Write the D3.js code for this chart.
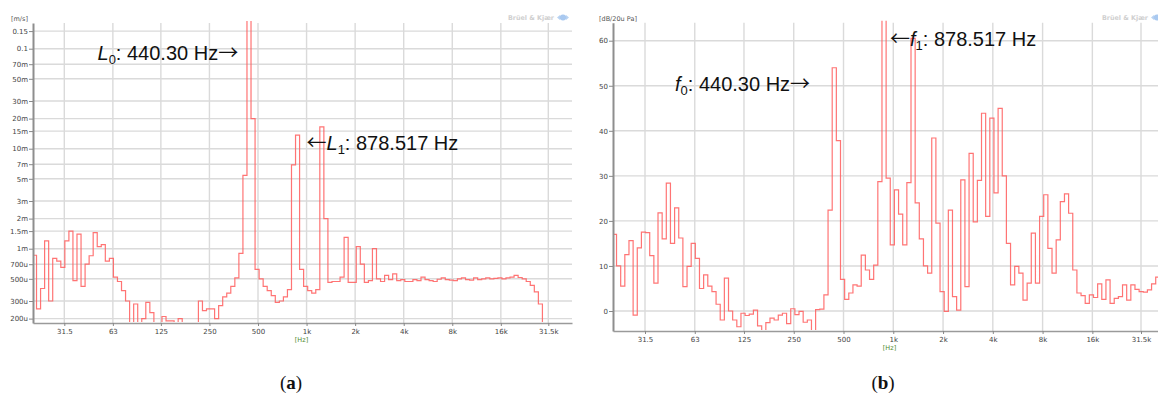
<!DOCTYPE html>
<html><head><meta charset="utf-8">
<script src="https://cdn.jsdelivr.net/npm/d3@7"></script>
<style>body{margin:0;background:#fff}svg{display:block}</style>
</head><body><svg id="c" width="1158" height="400"></svg>
<script>
// ---- data ----
const bandStartHz = 20;        // first analyser band edge
const bandsPerOctave = 12;     // 1/12-octave bands
const freqTicks = [31.5, 63, 125, 250, 500, 1000, 2000, 4000, 8000, 16000, 31500];
const freqTickLabels = ["31.5", "63", "125", "250", "500", "1k", "2k", "4k", "8k", "16k", "31.5k"];
const velocityTicks = [0.15, 0.1, 0.07, 0.05, 0.03, 0.02, 0.015, 0.01, 0.007, 0.005, 0.003, 0.002, 0.0015, 0.001, 0.0007, 0.0005, 0.0003, 0.0002];
const velocityTickLabels = ["0.15", "0.1", "70m", "50m", "30m", "20m", "15m", "10m", "7m", "5m", "3m", "2m", "1.5m", "1m", "700u", "500u", "300u", "200u"];
const levelTicks = [60, 50, 40, 30, 20, 10, 0];
// (a) vibration velocity per band, in micro m/s
const velocityMicro = [
  860, 250, 400, 1200, 300, 800, 750, 650, 1200, 1500,
  480, 1400, 420, 700, 850, 1450, 1050, 1100, 750, 800,
  520, 470, 380, 300, 150, 280, 150, 200, 290, 230,
  150, 150, 210, 190, 190, 160, 200, 150, 150, 150,
  150, 300, 240, 250, 250, 200, 270, 330, 360, 420,
  510, 900, 5400, 200000, 20000, 620, 500, 420, 380, 340,
  290, 300, 330, 390, 6900, 13700, 620, 420, 380, 360,
  390, 16500, 2000, 460, 470, 470, 520, 1300, 460, 460,
  1050, 700, 460, 480, 1000, 500, 470, 540, 490, 560,
  480, 490, 470, 470, 490, 480, 520, 490, 480, 470,
  495, 510, 490, 485, 480, 500, 510, 490, 485, 510,
  490, 500, 510, 500, 505, 510, 500, 510, 520, 540,
  515, 500, 470, 430, 370, 280, 170
];
// (b) sound pressure level per band, dB re 20 uPa
const levelDb = [
  17, 10, 5.5, 12.5, 15.6, -0.9, 14, 17.5, 17.4, 12.3,
  6.2, 21.8, 16, 28.4, 15, 22.9, 16.2, 5.4, 9.9, 15,
  11.7, 5, 8, 5.5, 4.3, 1.5, -2, 7.3, 0, -2,
  -3.5, -0.5, -1, -0.7, 0.2, -3.3, -4.6, -2.6, -1.6, -2,
  -0.9, -0.5, -2.8, 0.5, -0.8, -0.1, -2.5, -2, -4.6, 0.3,
  0.4, 3.6, 22.4, 54, 37.8, 7, 2.6, 4, 5.8, 5.5,
  12.4, 9.1, 7, 10.2, 28.7, 66, 29.5, 14.7, 26.9, 21.5,
  14.7, 28.5, 60.5, 24, 16, 10, 8.4, 38.4, 19.5, 4.3,
  -0.1, 22.4, 3.2, 0.2, 29.1, 5.4, 35, 19.8, 29, 43.9,
  21, 42.8, 26.2, 45, 30, 15, 5.8, 9.9, 8.4, 2.4,
  6.2, 17.3, 6.2, 21, 25.8, 13.9, 8.4, 15.8, 24.3, 26,
  21.7, 9.1, 4, 3.4, 1.7, 3.6, 3, 6, 2.6, 6.9,
  1.7, 2.8, 3.2, 5.8, 2.4, 5.8, 4.8, 4.3, 4.2, 4.7,
  6, 7.5
];

// ---- drawing ----
const svg = d3.select("#c");
const defs = svg.append("defs");
const tickFont = "DejaVu Sans, Verdana, sans-serif";

function drawPanel(cfg) {
  const { left, right, top, bottom, x, y, yTicks, yLabels, values, id } = cfg;
  const g = svg.append("g");
  // grid
  g.append("g").selectAll("line").data(freqTicks).join("line")
    .attr("x1", d => x(d)).attr("x2", d => x(d)).attr("y1", top).attr("y2", bottom)
    .attr("stroke", "#dadada").attr("stroke-width", 1.4);
  g.append("g").selectAll("line").data(yTicks).join("line")
    .attr("x1", left).attr("x2", right).attr("y1", d => y(d)).attr("y2", d => y(d))
    .attr("stroke", "#dadada").attr("stroke-width", 1.4);
  // trace
  defs.append("clipPath").attr("id", id).append("rect")
    .attr("x", left).attr("y", top - 2).attr("width", right - left).attr("height", bottom - top + 1);
  const pts = values.map((v, i) => [bandStartHz * Math.pow(2, i / bandsPerOctave), v]);
  pts.push([bandStartHz * Math.pow(2, values.length / bandsPerOctave), values[values.length - 1]]);
  const line = d3.line().x(d => x(d[0])).y(d => y(d[1])).curve(d3.curveStepAfter);
  g.append("path").attr("d", line(pts)).attr("clip-path", `url(#${id})`)
    .attr("fill", "none").attr("stroke", "#ff5c5c").attr("stroke-width", 1.2)
    .attr("stroke-opacity", 0.85);
  // axes
  const ya = g.append("g").attr("transform", `translate(${left},0)`)
    .call(d3.axisLeft(y).tickValues(yTicks).tickFormat((d, i) => yLabels[i]).tickSizeInner(4).tickSizeOuter(0).tickPadding(1));
  ya.select(".domain").attr("stroke", "#8e8e8e").attr("stroke-width", 2);
  ya.selectAll(".tick line").attr("stroke", "#888");
  ya.selectAll("text").attr("font-family", tickFont).attr("font-size", 7).attr("fill", "#444");
  const xa = g.append("g").attr("transform", `translate(0,${bottom})`)
    .call(d3.axisBottom(x).tickValues(freqTicks).tickFormat((d, i) => freqTickLabels[i]).tickSizeInner(3).tickSizeOuter(0).tickPadding(3));
  xa.select(".domain").attr("stroke", "#9a9a9a").attr("stroke-width", 1.5);
  xa.selectAll(".tick line").attr("stroke", "#888");
  xa.selectAll("text").attr("font-family", tickFont).attr("font-size", 7).attr("fill", "#444");
  // unit labels
  g.append("text").attr("x", cfg.unitX).attr("y", 20.5).text(cfg.unit)
    .attr("font-family", tickFont).attr("font-size", 6.5).attr("fill", "#555");
  g.append("text").attr("x", cfg.hzX).attr("y", cfg.hzY).attr("text-anchor", "middle").text("[Hz]")
    .attr("font-family", tickFont).attr("font-size", 6.5).attr("fill", "#4f8a2c");
  // brand watermark
  g.append("text").attr("x", cfg.brandX).attr("y", 20).text("Brüel & Kjær")
    .attr("font-family", tickFont).attr("font-size", 6.5).attr("font-weight", "bold").attr("fill", "#d0d0d0")
    .attr("textLength", 46).attr("lengthAdjust", "spacingAndGlyphs");
  const bx = cfg.brandX + 55;
  g.append("path").attr("d", `M${bx - 6},17.5 L${bx - 3},15 L${bx - 3},20 Z M${bx + 6},17.5 L${bx + 3},15 L${bx + 3},20 Z`).attr("fill", "#b9d3f2");
  g.append("ellipse").attr("cx", bx).attr("cy", 17.5).attr("rx", 3.2).attr("ry", 3).attr("fill", "#a9c9f0");
}

// (a)
{
  const x = d3.scaleLog().domain([31.5, 31500]).range([64.3, 548.3]);
  x.domain([x.invert(33), x.invert(572)]).range([33, 572]);
  const y = d3.scaleLog().domain([0.1, 0.001]).range([48.7, 248.7]);
  y.domain([y.invert(323), y.invert(23)]).range([323, 23]);
  drawPanel({ left: 33, right: 572, top: 23, bottom: 323, x, y,
    yTicks: velocityTicks, yLabels: velocityTickLabels, id: "clipA",
    values: velocityMicro.map(v => v * 1e-6),
    unit: "[m/s]", unitX: 11, hzX: 301.5, hzY: 342, brandX: 508 });
}
// (b)
{
  const x = d3.scaleLog().domain([31.5, 31500]).range([645, 1141]);
  x.domain([x.invert(613), x.invert(1158)]).range([613, 1158]);
  const y = d3.scaleLinear().domain([0, 60]).range([311, 40.7]);
  y.domain([y.invert(331), y.invert(22.7)]).range([331, 22.7]);
  drawPanel({ left: 613, right: 1158, top: 22.7, bottom: 331, x, y,
    yTicks: levelTicks, yLabels: levelTicks.map(String), id: "clipB",
    values: levelDb,
    unit: "[dB/20u Pa]", unitX: 599, hzX: 889.5, hzY: 350, brandX: 1102 });
}

// annotations
const arrowFont = "Noto Sans CJK JP, DejaVu Sans, sans-serif";
function annotate(px, py, pre, sym, sub, post, postArrow) {
  const t = svg.append("text").attr("x", px).attr("y", py)
    .attr("font-family", "Liberation Sans, Arial, sans-serif").attr("font-size", 20).attr("fill", "#111");
  if (pre) t.append("tspan").attr("font-family", arrowFont).text(pre);
  t.append("tspan").attr("font-style", "italic").text(sym);
  t.append("tspan").attr("font-size", 13).attr("dy", 4).text(sub);
  t.append("tspan").attr("dy", -4).text(post);
  if (postArrow) t.append("tspan").attr("font-family", arrowFont).text(postArrow);
}
annotate(97.5, 60, "", "L", "0", ": 440.30 Hz", "\u2192");
annotate(306.5, 150, "\u2190", "L", "1", ": 878.517 Hz", "");
annotate(675, 90.5, "", "f", "0", ": 440.30 Hz", "\u2192");
annotate(890, 45.5, "\u2190", "f", "1", ": 878.517 Hz", "");

// panel captions
function caption(cx, letter) {
  const t = svg.append("text").attr("x", cx).attr("y", 389).attr("text-anchor", "middle")
    .attr("font-family", "Liberation Serif, Times New Roman, serif").attr("font-size", 19).attr("fill", "#111");
  t.append("tspan").text("(");
  t.append("tspan").attr("font-weight", "bold").text(letter);
  t.append("tspan").text(")");
}
caption(291, "a");
caption(883, "b");
</script></body></html>
